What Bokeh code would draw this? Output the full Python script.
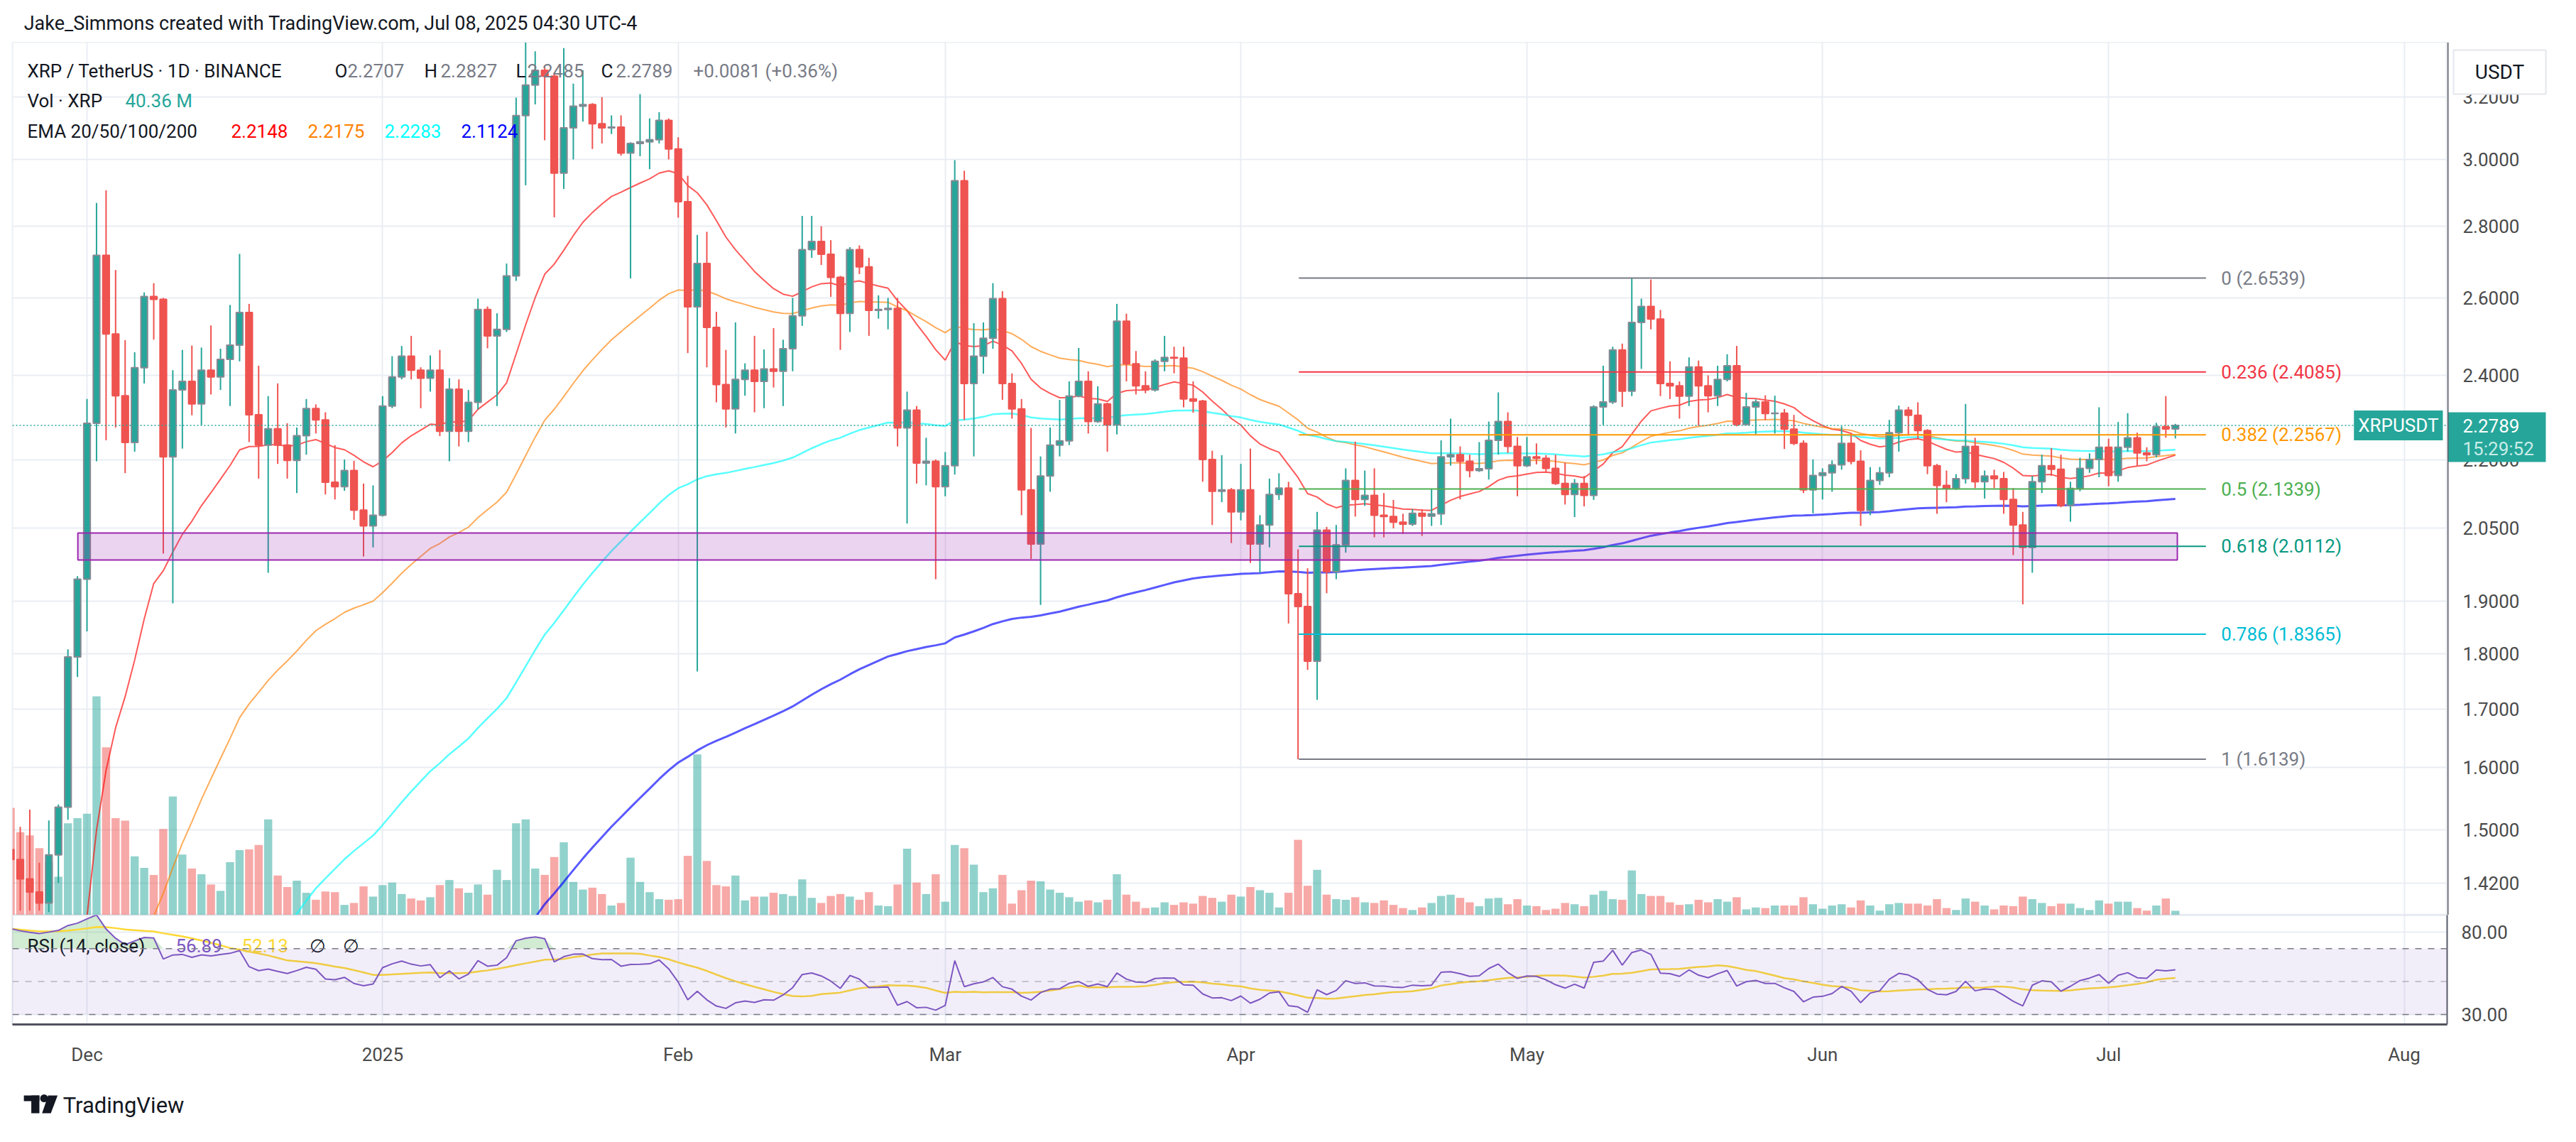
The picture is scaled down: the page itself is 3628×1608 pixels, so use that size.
import math
import numpy as np
import pandas as pd
from bokeh.plotting import figure
from bokeh.layouts import column, row
from bokeh.models import (Range1d, LinearScale, FixedTicker, PrintfTickFormatter,
                          Span, Label, ColumnDataSource, BoxAnnotation)
from bokeh.embed import file_html
from bokeh.resources import INLINE
from bokeh.core.properties import value

# ---------------------------------------------------------------- data
TITLE = "Jake_Simmons created with TradingView.com, Jul 08, 2025 04:30 UTC-4"
START_DATE = "2024-11-23"
END_DATE = "2025-07-08"

opens = [
    1.47, 1.455, 1.426, 1.407, 1.391, 1.462, 1.536, 1.794,
    1.944, 2.284, 2.717, 2.505, 2.350, 2.239, 2.419, 2.604, 2.596, 2.206, 2.364, 2.385, 2.330, 2.413, 2.396, 2.440,
    2.476, 2.561, 2.304, 2.233, 2.271, 2.233, 2.198, 2.255, 2.319, 2.292, 2.149, 2.139, 2.175, 2.088, 2.054,
    2.077, 2.325, 2.396, 2.448, 2.413, 2.393, 2.413, 2.265, 2.366, 2.265, 2.334, 2.569, 2.500, 2.517, 2.660, 3.139,
    3.240, 3.290, 3.270, 2.958, 3.100, 3.170, 3.175, 3.113, 3.100, 3.102, 3.020, 3.050, 3.055, 3.062, 3.124,
    3.033, 2.872, 2.576, 2.694, 2.522, 2.377, 2.318, 2.390, 2.413, 2.385, 2.416, 2.410, 2.467, 2.552, 2.733, 2.756,
    2.720, 2.656, 2.559, 2.733, 2.685, 2.567, 2.569, 2.572, 2.273, 2.315, 2.192, 2.196,
    2.139, 2.186, 2.935, 2.380, 2.448, 2.494, 2.598, 2.380, 2.318, 2.132, 2.016, 2.163, 2.233, 2.243, 2.349, 2.385,
    2.288, 2.330, 2.280, 2.538, 2.429, 2.374, 2.364, 2.435, 2.445, 2.443, 2.342, 2.337, 2.200, 2.129, 2.132,
    2.084, 2.132, 2.016, 2.056, 2.122, 2.136, 1.915, 1.890, 1.786, 2.045, 1.959, 2.014, 2.153, 2.111, 2.120, 2.077,
    2.074, 2.062, 2.058, 2.081, 2.075, 2.080, 2.206, 2.211, 2.196, 2.175, 2.179, 2.244, 2.288, 2.230,
    2.186, 2.206, 2.203, 2.180, 2.146, 2.122, 2.146, 2.120, 2.323, 2.335, 2.464, 2.361, 2.535, 2.577, 2.544, 2.380,
    2.374, 2.349, 2.421, 2.374, 2.350, 2.390, 2.424, 2.281, 2.323, 2.335, 2.307, 2.308, 2.270, 2.237, 2.132,
    2.164, 2.170, 2.188, 2.237, 2.196, 2.087, 2.153, 2.170, 2.262, 2.315, 2.303, 2.267, 2.186, 2.142, 2.135, 2.157,
    2.230, 2.150, 2.163, 2.157, 2.111, 2.056, 2.009, 2.150, 2.186, 2.178, 2.098, 2.135, 2.180, 2.200,
    2.228, 2.164, 2.228, 2.250, 2.215, 2.211, 2.276, 2.2707,
]
highs = [
    1.51, 1.505, 1.532, 1.45, 1.515, 1.54, 1.808, 1.95,
    2.342, 2.868, 2.906, 2.676, 2.489, 2.458, 2.615, 2.640, 2.600, 2.413, 2.464, 2.475, 2.470, 2.527, 2.467, 2.581,
    2.721, 2.584, 2.424, 2.349, 2.380, 2.284, 2.274, 2.342, 2.329, 2.310, 2.233, 2.200, 2.197, 2.146, 2.142,
    2.349, 2.448, 2.474, 2.500, 2.420, 2.450, 2.464, 2.393, 2.390, 2.364, 2.598, 2.577, 2.559, 2.694, 3.198, 3.386,
    3.355, 3.300, 3.280, 3.366, 3.245, 3.290, 3.180, 3.200, 3.140, 3.140, 3.054, 3.210, 3.130, 3.150, 3.130,
    3.070, 2.950, 2.775, 2.784, 2.563, 2.464, 2.535, 2.430, 2.500, 2.465, 2.520, 2.490, 2.600, 2.830, 2.830, 2.800,
    2.760, 2.660, 2.740, 2.745, 2.710, 2.607, 2.600, 2.600, 2.360, 2.325, 2.250, 2.200,
    2.217, 2.998, 2.965, 2.533, 2.535, 2.640, 2.618, 2.405, 2.342, 2.273, 2.207, 2.274, 2.340, 2.385, 2.469, 2.410,
    2.373, 2.333, 2.584, 2.558, 2.461, 2.410, 2.440, 2.500, 2.472, 2.472, 2.385, 2.340, 2.220, 2.210, 2.136,
    2.190, 2.225, 2.077, 2.157, 2.169, 2.150, 2.005, 1.966, 2.084, 2.052, 2.056, 2.180, 2.241, 2.175, 2.180, 2.125,
    2.110, 2.080, 2.090, 2.090, 2.135, 2.244, 2.295, 2.230, 2.211, 2.240, 2.288, 2.358, 2.310, 2.252,
    2.252, 2.237, 2.210, 2.211, 2.193, 2.156, 2.163, 2.327, 2.424, 2.472, 2.480, 2.6539, 2.598, 2.650, 2.568, 2.435,
    2.385, 2.445, 2.437, 2.400, 2.424, 2.453, 2.474, 2.357, 2.341, 2.351, 2.350, 2.318, 2.304, 2.244, 2.200,
    2.180, 2.198, 2.277, 2.258, 2.221, 2.183, 2.183, 2.292, 2.326, 2.323, 2.334, 2.270, 2.190, 2.175, 2.167, 2.330,
    2.250, 2.175, 2.177, 2.172, 2.136, 2.084, 2.163, 2.211, 2.226, 2.211, 2.150, 2.204, 2.214, 2.322,
    2.248, 2.287, 2.308, 2.262, 2.228, 2.285, 2.349, 2.2827,
]
lows = [
    1.42, 1.38, 1.38, 1.38, 1.378, 1.42, 1.516, 1.757,
    1.842, 2.196, 2.244, 2.274, 2.169, 2.218, 2.380, 2.490, 1.996, 1.896, 2.225, 2.303, 2.280, 2.353, 2.364, 2.325,
    2.435, 2.240, 2.157, 1.957, 2.190, 2.157, 2.125, 2.211, 2.260, 2.122, 2.111, 2.130, 2.067, 1.990, 2.009,
    2.074, 2.320, 2.390, 2.390, 2.320, 2.360, 2.254, 2.196, 2.230, 2.240, 2.317, 2.468, 2.325, 2.510, 2.646, 2.921,
    3.176, 3.060, 2.826, 2.910, 3.000, 3.120, 3.033, 3.050, 3.080, 3.012, 2.653, 3.010, 2.970, 3.050, 3.000,
    2.825, 2.456, 1.767, 2.420, 2.334, 2.274, 2.260, 2.350, 2.310, 2.320, 2.370, 2.325, 2.410, 2.526, 2.710, 2.690,
    2.603, 2.464, 2.510, 2.665, 2.500, 2.545, 2.517, 2.230, 2.059, 2.146, 2.142, 1.944,
    2.118, 2.166, 2.292, 2.207, 2.404, 2.467, 2.340, 2.295, 2.077, 1.985, 1.893, 2.128, 2.207, 2.233, 2.346, 2.260,
    2.285, 2.218, 2.258, 2.385, 2.353, 2.356, 2.360, 2.410, 2.405, 2.322, 2.309, 2.150, 2.056, 2.105, 2.018,
    2.066, 1.977, 1.957, 2.009, 2.110, 1.857, 1.6139, 1.770, 1.716, 1.916, 1.944, 1.998, 2.074, 2.097, 2.030, 2.030,
    2.049, 2.037, 2.054, 2.033, 2.054, 2.056, 2.186, 2.111, 2.160, 2.172, 2.155, 2.211, 2.215, 2.118,
    2.183, 2.189, 2.170, 2.143, 2.100, 2.073, 2.096, 2.110, 2.280, 2.330, 2.323, 2.349, 2.416, 2.517, 2.349, 2.342,
    2.295, 2.325, 2.278, 2.310, 2.325, 2.385, 2.277, 2.280, 2.258, 2.292, 2.260, 2.224, 2.233, 2.125, 2.081,
    2.111, 2.128, 2.177, 2.189, 2.054, 2.077, 2.143, 2.160, 2.218, 2.255, 2.248, 2.167, 2.080, 2.105, 2.132, 2.146,
    2.136, 2.113, 2.136, 2.080, 1.993, 1.894, 1.957, 2.125, 2.163, 2.094, 2.063, 2.129, 2.170, 2.160,
    2.140, 2.150, 2.218, 2.186, 2.196, 2.205, 2.250, 2.2485,
]
closes = [
    1.455, 1.426, 1.407, 1.391, 1.462, 1.536, 1.794, 1.944,
    2.284, 2.717, 2.505, 2.350, 2.239, 2.419, 2.604, 2.596, 2.206, 2.364, 2.385, 2.330, 2.413, 2.396, 2.440, 2.476,
    2.561, 2.304, 2.233, 2.271, 2.233, 2.198, 2.255, 2.319, 2.292, 2.149, 2.139, 2.175, 2.088, 2.054, 2.077,
    2.325, 2.396, 2.448, 2.413, 2.393, 2.413, 2.265, 2.366, 2.265, 2.334, 2.569, 2.500, 2.517, 2.660, 3.139, 3.240,
    3.290, 3.270, 2.958, 3.100, 3.170, 3.175, 3.113, 3.100, 3.102, 3.020, 3.050, 3.055, 3.062, 3.124, 3.033,
    2.872, 2.576, 2.694, 2.522, 2.377, 2.318, 2.390, 2.413, 2.385, 2.416, 2.410, 2.467, 2.552, 2.733, 2.756, 2.720,
    2.656, 2.559, 2.733, 2.685, 2.567, 2.569, 2.572, 2.273, 2.315, 2.192, 2.196, 2.139,
    2.186, 2.935, 2.380, 2.448, 2.494, 2.598, 2.380, 2.318, 2.132, 2.016, 2.163, 2.233, 2.243, 2.349, 2.385, 2.288,
    2.330, 2.280, 2.538, 2.429, 2.374, 2.364, 2.435, 2.445, 2.443, 2.342, 2.337, 2.200, 2.129, 2.132, 2.084,
    2.132, 2.016, 2.056, 2.122, 2.136, 1.915, 1.890, 1.786, 2.045, 1.959, 2.014, 2.153, 2.111, 2.120, 2.077, 2.074,
    2.062, 2.058, 2.081, 2.075, 2.080, 2.206, 2.211, 2.196, 2.175, 2.179, 2.244, 2.288, 2.230, 2.186,
    2.206, 2.203, 2.180, 2.146, 2.122, 2.146, 2.120, 2.323, 2.335, 2.464, 2.361, 2.535, 2.577, 2.544, 2.380, 2.374,
    2.349, 2.421, 2.374, 2.350, 2.390, 2.424, 2.281, 2.323, 2.335, 2.307, 2.308, 2.270, 2.237, 2.132, 2.164,
    2.170, 2.188, 2.237, 2.196, 2.087, 2.153, 2.170, 2.262, 2.315, 2.303, 2.267, 2.186, 2.142, 2.135, 2.157, 2.230,
    2.150, 2.163, 2.157, 2.111, 2.056, 2.009, 2.150, 2.186, 2.178, 2.098, 2.135, 2.180, 2.200, 2.228,
    2.164, 2.228, 2.250, 2.215, 2.211, 2.276, 2.2707, 2.2789,
]
volumes_m = [
    1008, 780, 750, 630, 492, 360, 864, 912,
    954, 2058, 1578, 912, 888, 552, 444, 378, 810, 1116, 570, 438, 384, 288, 228, 498,
    612, 618, 660, 900, 372, 264, 324, 210, 144, 222, 216, 96, 114, 270, 174,
    282, 306, 198, 156, 138, 168, 282, 330, 252, 210, 288, 192, 426, 330, 864, 900,
    438, 378, 546, 684, 312, 240, 258, 198, 90, 114, 540, 312, 216, 150, 144,
    150, 558, 1512, 510, 282, 270, 372, 138, 174, 174, 210, 198, 180, 336, 162, 114,
    180, 198, 174, 144, 216, 90, 84, 288, 624, 306, 198, 384,
    126, 660, 630, 474, 216, 252, 378, 108, 234, 324, 318, 240, 210, 168, 126, 138,
    120, 144, 384, 192, 126, 66, 72, 120, 96, 120, 108, 180, 162, 126, 192,
    174, 264, 234, 210, 72, 210, 708, 276, 426, 192, 150, 144, 168, 120, 114, 138,
    96, 66, 48, 72, 114, 180, 192, 162, 120, 84, 156, 162, 102, 150,
    90, 84, 48, 60, 114, 102, 84, 192, 228, 150, 144, 420, 198, 180, 180, 120,
    96, 102, 144, 120, 150, 126, 168, 54, 72, 66, 90, 90, 90, 168, 102,
    60, 90, 102, 72, 138, 90, 42, 102, 114, 108, 108, 90, 150, 66, 48, 156,
    126, 90, 54, 90, 84, 174, 150, 114, 84, 108, 108, 66, 48, 138,
    108, 126, 126, 66, 42, 90, 156, 40.36,
]

price_ticks = [1.42, 1.5, 1.6, 1.7, 1.8, 1.9, 2.05, 2.2, 2.4, 2.6, 2.8, 3.0, 3.2]
rsi_ticks = [30, 80]
month_starts = ["2024-12-01", "2025-01-01", "2025-02-01", "2025-03-01", "2025-04-01",
                "2025-05-01", "2025-06-01", "2025-07-01", "2025-08-01"]
month_labels = ["Dec", "2025", "Feb", "Mar", "Apr", "May", "Jun", "Jul", "Aug"]

fib_ratios = ["0", "0.236", "0.382", "0.5", "0.618", "0.786", "1"]
fib_prices = [2.6539, 2.4085, 2.2567, 2.1339, 2.0112, 1.8365, 1.6139]
fib_colors = ["#787b86", "#f23645", "#ff9800", "#4caf50", "#089981", "#00bcd4", "#787b86"]
fib_start = "2025-04-07 02:00"
fib_end = "2025-07-11 05:00"

zone_low, zone_high = 1.983, 2.039
zone_start = "2024-11-30 01:00"
zone_end = "2025-07-08 05:00"

ema_periods = [20, 50, 100, 200]
ema_seeds = [0.89, 0.73, 0.66, 0.654]          # level of each EMA just before the first bar
ema_colors = ["#ff0000", "#ff8000", "#00ffff", "#0000ff"]
ema_widths = [2, 2, 2.5, 3]
ema_legend = ["2.2148", "2.2175", "2.2283", "2.1124"]

rsi_prev_close = 1.47
rsi_gain0, rsi_loss0 = 0.12, 0.025
rsi_legend = ["56.89", "52.13"]

symbol = "XRPUSDT"
quote = "USDT"
last_price = 2.2789
ohlc_legend = ["2.2707", "2.2827", "2.2485", "2.2789"]
change_text = "+0.0081 (+0.36%)"
vol_legend = "40.36 M"
countdown = "15:29:52"

n = len(closes)
assert len(opens) == n and len(highs) == n and len(lows) == n and len(volumes_m) == n

# ---------------------------------------------------------------- helpers / geometry
DAY = 86400000.0
FONT = "Roboto"
W = 3612
AXIS_W = 166
FRAME_L, FRAME_R = 25, 3454          # page px
PRICE_T, PRICE_B = 67, 1296
RSI_T, RSI_B = 1296, 1450


def ts(s):
    return pd.Timestamp(s).value / 1e6


dates = pd.date_range(START_DATE, END_DATE, freq="D")
assert len(dates) == n
x_ms = np.array([ts(d) for d in dates])

X_ORIGIN = ts("2024-12-01")
X0 = X_ORIGIN - 7.82 * DAY
X1 = X_ORIGIN + 247.5 * DAY
Y_LO, Y_HI = 1.3737, 3.3865
RSI_LO, RSI_HI = 24.0, 90.3
VOL_MAX = 8210.0


def px2x(px):
    return X0 + (px - FRAME_L) / (FRAME_R - FRAME_L) * (X1 - X0)


def py2price(py):
    f = (PRICE_B - py) / (PRICE_B - PRICE_T)
    return math.exp(math.log(Y_LO) + f * (math.log(Y_HI) - math.log(Y_LO)))


def py2rsi(py):
    return RSI_LO + (RSI_B - py) / (RSI_B - RSI_T) * (RSI_HI - RSI_LO)


def ema(vals, period, seed):
    a = 2.0 / (period + 1)
    e = seed
    out = []
    for v in vals:
        e = e + a * (v - e)
        out.append(e)
    return out


def rsi(vals, prev, g0, l0, period=14):
    ag, al = g0, l0
    out = []
    for c in vals:
        d = c - prev
        ag = (ag * (period - 1) + max(d, 0.0)) / period
        al = (al * (period - 1) + max(-d, 0.0)) / period
        out.append(100.0 - 100.0 / (1.0 + ag / al))
        prev = c
    return out


up = [c >= o for o, c in zip(opens, closes)]
candles = ColumnDataSource(dict(
    x=x_ms, high=highs, low=lows,
    top=[max(o, c) for o, c in zip(opens, closes)],
    bottom=[min(o, c) for o, c in zip(opens, closes)],
    wick=["#26a69a" if u else "#ef5350" for u in up],
    fill=["#26a69a" if u else "#ef5350" for u in up],
    border=["#868993" if u else "#ef5350" for u in up],
    vol=volumes_m,
    vcol=["#26a69a" if u else "#ef5350" for u in up],
))

xr = Range1d(X0, X1)
yr = Range1d(Y_LO, Y_HI)
month_ms = [ts(m) for m in month_starts]
dark, grey = "#131722", "#787b86"

# ---------------------------------------------------------------- header
header = figure(width=W, height=59, x_range=Range1d(0, W), y_range=Range1d(59, 0),
                toolbar_location=None, output_backend="svg",
                x_axis_location=None, y_axis_location=None, min_border=0,
                outline_line_color=None)
header.grid.visible = False
header.text(x=[17], y=[32], text=[TITLE], text_font=value(FONT), text_font_size="27px",
            text_color=dark, text_baseline="middle")

# ---------------------------------------------------------------- price pane
p = figure(width=W - AXIS_W, height=PRICE_B - PRICE_T, x_range=xr, y_range=yr,
           y_axis_type="log", y_axis_location=None, x_axis_location=None,
           toolbar_location=None, output_backend="svg",
           min_border_left=FRAME_L - 8, min_border_right=0,
           min_border_top=0, min_border_bottom=0,
           outline_line_color="#eceff4", outline_line_width=2)
p.extra_y_ranges = {"vol": Range1d(0, VOL_MAX)}
p.extra_y_scales = {"vol": LinearScale()}

p.ygrid.ticker = FixedTicker(ticks=price_ticks)
p.xgrid.ticker = FixedTicker(ticks=month_ms)
for g in (p.xgrid, p.ygrid):
    g.grid_line_color = "#e9edf3"
    g.grid_line_width = 2

# volume
p.vbar(x="x", top="vol", bottom=0, width=0.85 * DAY, source=candles, y_range_name="vol",
       fill_color="vcol", fill_alpha=0.5, line_color=None)

# EMAs
ema_series = [ema(closes, per, s) for per, s in zip(ema_periods, ema_seeds)]
for ser, col, lw in zip(ema_series, ema_colors, ema_widths):
    p.line(x_ms, ser, line_color=col, line_alpha=0.65, line_width=lw)

# candles
p.segment(x0="x", y0="low", x1="x", y1="high", source=candles, line_color="wick", line_width=2)
p.vbar(x="x", top="top", bottom="bottom", width=0.69 * DAY, source=candles,
       fill_color="fill", line_color="border", line_width=2)

# support zone
p.quad(left=[ts(zone_start)], right=[ts(zone_end)], bottom=[zone_low], top=[zone_high],
       fill_color="#9c27b0", fill_alpha=0.2, line_color="#9c27b0", line_width=2)

# fib retracement
fx0, fx1 = ts(fib_start), ts(fib_end)
p.segment(x0=[fx0] * len(fib_prices), x1=[fx1] * len(fib_prices), y0=fib_prices, y1=fib_prices,
          line_color=fib_colors, line_width=2)
p.text(x=[fx1 + 1.6 * DAY] * len(fib_prices), y=fib_prices,
       text=[f"{r} ({v:.4f})" for r, v in zip(fib_ratios, fib_prices)],
       text_color=fib_colors, text_font=value(FONT), text_font_size="26px",
       text_baseline="middle", text_align="left")

# last price line
p.add_layout(Span(location=last_price, dimension="width", line_color="#26a69a",
                  line_dash="2 3", line_width=1.5))

# legend block
leg_x = [46, 479, 497, 605, 628, 734, 750, 854, 875, 984, 46, 184, 46, 333, 441, 549, 657]
leg_py = [107] * 10 + [149] * 2 + [192] * 5
leg_txt = (["XRP / TetherUS · 1D · BINANCE", "O", ohlc_legend[0], "H", ohlc_legend[1],
            "L", ohlc_legend[2], "C", ohlc_legend[3], change_text,
            "Vol · XRP", vol_legend, "EMA 20/50/100/200"] + ema_legend)
leg_col = ([dark, dark, grey, dark, grey, dark, grey, dark, grey, grey, dark, "#26a69a", dark]
           + ema_colors)
p.text(x=[px2x(v) for v in leg_x], y=[py2price(v) for v in leg_py], text=leg_txt,
       text_color=leg_col, text_font=value(FONT), text_font_size="26px",
       text_baseline="middle", text_align="left")

# symbol tag at the right edge of the pane
p.add_layout(Label(x=px2x(3448), y=last_price, text=symbol, text_align="right",
                   text_baseline="middle", text_color="white", text_font=FONT,
                   text_font_size="26px", background_fill_color="#26a69a", padding=6))

# ---------------------------------------------------------------- price scale (right strip)
a = figure(width=AXIS_W, height=PRICE_B - PRICE_T, x_range=Range1d(0, AXIS_W), y_range=yr,
           y_axis_type="log", y_axis_location=None, x_axis_location=None,
           toolbar_location=None, output_backend="svg", min_border=0,
           outline_line_color=None)
a.grid.visible = False
a.text(x=[22] * len(price_ticks), y=price_ticks, text=[f"{t:.4f}" for t in price_ticks],
       text_color="#4a4a4a", text_font=value(FONT), text_font_size="26px",
       text_baseline="middle", text_align="left")
# quote-currency badge
a.quad(left=[9], right=[139], top=[py2price(78)], bottom=[py2price(140)],
       fill_color="white", line_color="#e3e6ec", line_width=2)
a.text(x=[74], y=[py2price(109)], text=[quote], text_color=dark, text_font=value(FONT),
       text_font_size="28px", text_baseline="middle", text_align="center")
# last price badge
a.quad(left=[1], right=[139], top=[py2price(588)], bottom=[py2price(658)],
       fill_color="#26a69a", line_color=None)
a.text(x=[22, 22], y=[last_price, py2price(639)], text=[f"{last_price:.4f}", countdown],
       text_color=["white", "#c9ece8"], text_font=value(FONT), text_font_size="26px",
       text_baseline="middle", text_align="left")
a.add_layout(Span(location=1, dimension="height", line_color="#5d606b", line_width=2))

# ---------------------------------------------------------------- RSI pane
r = figure(width=W, height=(RSI_B - RSI_T) + 69, x_range=xr, y_range=Range1d(RSI_LO, RSI_HI),
           y_axis_location="right", toolbar_location=None, output_backend="svg",
           min_border_left=FRAME_L - 8, min_border_right=AXIS_W,
           min_border_top=0, min_border_bottom=69,
           outline_line_color="#e0e3eb", outline_line_width=2)
r.yaxis.ticker = FixedTicker(ticks=rsi_ticks)
r.yaxis.formatter = PrintfTickFormatter(format="%.2f")
r.yaxis.axis_line_color = "#5d606b"
r.yaxis.axis_line_width = 2
r.yaxis.major_tick_line_color = None
r.yaxis.minor_tick_line_color = None
r.yaxis.major_tick_out = 0
r.yaxis.major_label_standoff = 20
r.yaxis.major_label_text_font = FONT
r.yaxis.major_label_text_font_size = "26px"
r.yaxis.major_label_text_color = "#4a4a4a"

r.xaxis.ticker = FixedTicker(ticks=month_ms)
r.xaxis.major_label_overrides = {m: lab for m, lab in zip(month_ms, month_labels)}
r.xaxis.axis_line_color = "#50535e"
r.xaxis.axis_line_width = 3
r.xaxis.major_tick_line_color = None
r.xaxis.minor_tick_line_color = None
r.xaxis.major_tick_out = 0
r.xaxis.major_label_standoff = 27
r.xaxis.major_label_text_font = FONT
r.xaxis.major_label_text_font_size = "26px"
r.xaxis.major_label_text_color = "#4a4a4a"
r.xgrid.ticker = FixedTicker(ticks=month_ms)
r.ygrid.ticker = FixedTicker(ticks=rsi_ticks)
for g in (r.xgrid, r.ygrid):
    g.grid_line_color = "#e9edf3"
    g.grid_line_width = 2

rsi_vals = rsi(closes, rsi_prev_close, rsi_gain0, rsi_loss0)
rsi_ma = pd.Series(rsi_vals).rolling(14, min_periods=1).mean().tolist()

r.add_layout(BoxAnnotation(bottom=30, top=70, fill_color="#7e57c2", fill_alpha=0.1, line_color=None))
r.varea(x=x_ms, y1=[70] * n, y2=[max(v, 70) for v in rsi_vals], fill_color="#4caf50", fill_alpha=0.25)
for lvl, alpha in ((70, 1.0), (50, 0.5), (30, 1.0)):
    r.add_layout(Span(location=lvl, dimension="width", line_color="#787b86", line_alpha=alpha,
                      line_dash="9 9", line_width=1.5))
r.line(x_ms, rsi_ma, line_color="#fdd835", line_width=2.5)
r.line(x_ms, rsi_vals, line_color="#7e57c2", line_width=2)

r_leg_x = [46, 255, 348, 443, 490]
r_leg_txt = ["RSI (14, close)"] + rsi_legend + ["∅", "∅"]
r_leg_col = [dark, "#7e57c2", "#fdd835", dark, dark]
r.text(x=[px2x(v) for v in r_leg_x], y=[py2rsi(1339)] * 5, text=r_leg_txt, text_color=r_leg_col,
       text_font=value(FONT), text_font_size="26px", text_baseline="middle", text_align="left")

# ---------------------------------------------------------------- footer (logo)
FH = 81
footer = figure(width=W, height=FH, x_range=Range1d(0, W), y_range=Range1d(FH, 0),
                toolbar_location=None, output_backend="svg",
                x_axis_location=None, y_axis_location=None, min_border=0,
                outline_line_color=None)
footer.grid.visible = False
footer.quad(left=[17, 28], right=[40, 40], top=[31, 31], bottom=[39, 56], fill_color=dark, line_color=None)
footer.scatter(x=[47], y=[35], size=11, fill_color=dark, line_color=None)
footer.patch(x=[53, 67, 57, 44], y=[31, 31, 56, 56], fill_color=dark, line_color=None)
footer.text(x=[75], y=[45], text=["TradingView"], text_font=value(FONT), text_font_size="31px",
            text_color=dark, text_baseline="middle")

layout = column(header, row(p, a, spacing=0), r, footer, spacing=0)
open("out.html", "w").write(file_html(layout, INLINE))
